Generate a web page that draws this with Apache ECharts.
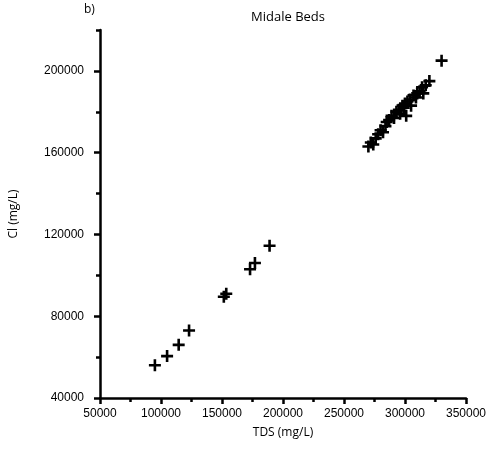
<!DOCTYPE html>
<html>
<head>
<meta charset="utf-8">
<script src="https://cdn.jsdelivr.net/npm/echarts@6/dist/echarts.min.js"></script>
<style>
  html, body { margin: 0; padding: 0; background: #fff; }
  #chart { width: 489px; height: 462px; }
</style>
</head>
<body>
<div id="chart"></div>
<script>
// TDS (mg/L) and Cl (mg/L), one pair per cross
const tdsValues = [
  95000, 105000, 114500, 123000, 151500, 153500, 173000, 177000, 189000,
  270000, 272000, 274000, 276000, 278000, 280000, 282000, 284000, 285000,
  287000, 289000, 291000, 293000, 295000, 296000, 298000, 299000, 300000,
  301000, 302000, 304000, 305000, 307000, 309000, 310000, 312000, 314000,
  315000, 317000, 320000, 330000
];
const clValues = [
  56000, 60500, 66000, 73000, 89500, 91000, 103000, 106000, 114500,
  163000, 165000, 164000, 167000, 169000, 171000, 170000, 173000, 175000,
  176000, 178000, 177000, 180000, 181000, 179000, 183000, 182000, 184000,
  178000, 185000, 186000, 183000, 188000, 187000, 189000, 190000, 192000,
  189000, 193000, 195000, 205000
];
const xTicks = [50000, 350000, 50000];   // min, max, step
const yTicks = [40000, 220000, 40000];

const points = tdsValues.map((v, i) => [v, clValues[i]]);

const chart = echarts.init(document.getElementById('chart'), null, { renderer: 'canvas' });

const plus = 'path://M4.7,0h2.6v4.7h4.7v2.6h-4.7v4.7h-2.6v-4.7h-4.7v-2.6h4.7z';
const labelFont = {
  color: '#000', fontFamily: 'Liberation Sans', fontSize: 12,
  formatter: (v) => String(v)
};

const option = {
  animation: false,
  grid: { left: 98, right: 21, top: 30, bottom: 64 },
  graphic: [
    {
      type: 'text', left: 84, top: 4,
      style: { text: 'b)', fill: '#000', font: '12px "Open Sans"' }
    },
    {
      type: 'text', x: 288, y: 11,
      style: { text: 'Midale Beds', fill: '#000', font: '13px "Open Sans"', textAlign: 'center' }
    }
  ],
  xAxis: {
    type: 'value',
    min: xTicks[0],
    max: xTicks[1],
    interval: xTicks[2],
    name: 'TDS (mg/L)',
    nameLocation: 'middle',
    nameGap: 29,
    nameTextStyle: { color: '#000', fontFamily: 'Open Sans', fontSize: 12 },
    axisLine: { show: true, onZero: false, lineStyle: { color: '#000', width: 2.5 } },
    axisTick: { show: true, length: 6, lineStyle: { color: '#000', width: 2.5 } },
    minorTick: { show: true, splitNumber: 2, length: 4, lineStyle: { color: '#000', width: 2.5 } },
    axisLabel: Object.assign({ margin: 10 }, labelFont),
    splitLine: { show: false }
  },
  yAxis: [
    {
      type: 'value',
      min: yTicks[0],
      max: yTicks[1],
      interval: yTicks[2],
      name: 'Cl (mg/L)',
      nameLocation: 'middle',
      nameGap: 80,
      nameTextStyle: { color: '#000', fontFamily: 'Open Sans', fontSize: 12 },
      axisLine: { show: true, onZero: false, lineStyle: { color: '#000', width: 2.5 } },
      axisTick: { show: true, length: 6, lineStyle: { color: '#000', width: 2.5 } },
      axisLabel: Object.assign({ margin: 16, showMaxLabel: false }, labelFont),
      splitLine: { show: false }
    },
    {
      // half-step ticks
      type: 'value',
      position: 'left',
      min: yTicks[0],
      max: yTicks[1],
      interval: yTicks[2] / 2,
      axisLine: { show: false },
      axisTick: { show: true, length: 4, lineStyle: { color: '#000', width: 2.5 } },
      axisLabel: { show: false },
      splitLine: { show: false }
    }
  ],
  series: [
    {
      type: 'scatter',
      data: points,
      symbol: plus,
      symbolSize: 12,
      itemStyle: { color: '#000', opacity: 1 }
    }
  ]
};

chart.setOption(option);
</script>
</body>
</html>
